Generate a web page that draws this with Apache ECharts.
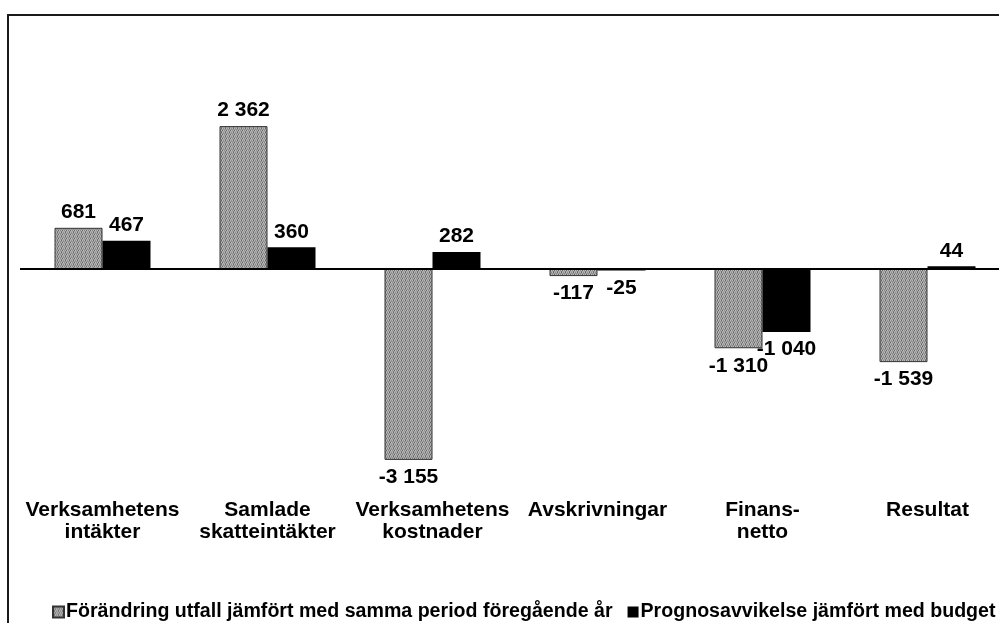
<!DOCTYPE html>
<html>
<head>
<meta charset="utf-8">
<script src="https://cdn.jsdelivr.net/npm/echarts@6/dist/echarts.min.js"></script>
<style>
html,body{margin:0;padding:0;background:#fff;}
#chart{width:999px;height:623px;}
</style>
</head>
<body>
<div id="chart"></div>
<script>
const categories = ['Verksamhetens\nintäkter', 'Samlade\nskatteintäkter', 'Verksamhetens\nkostnader', 'Avskrivningar', 'Finans-\nnetto', 'Resultat'];
const seriesNames = ['Förändring utfall jämfört med samma period föregående år', 'Prognosavvikelse jämfört med budget'];
const forandring = [681, 2362, -3155, -117, -1310, -1539];
const prognos = [467, 360, 282, -25, -1040, 44];
const yMin = -3500;
const yMax = 4000;

function fmt(v) {
  const s = Math.abs(v).toString().replace(/\B(?=(\d{3})+(?!\d))/g, ' ');
  return (v < 0 ? '-' : '') + s;
}

// dithered gray texture
function makePattern() {
  const c = document.createElement('canvas');
  c.width = 4; c.height = 4;
  const ctx = c.getContext('2d');
  const rows = [
    ['#bcbcbc', '#646464', '#bcbcbc', '#8a8a8a'],
    ['#969696', '#969696', '#9c9c9c', '#969696'],
    ['#8a8a8a', '#bcbcbc', '#646464', '#bcbcbc'],
    ['#a6a6a6', '#7c7c7c', '#a6a6a6', '#a6a6a6']
  ];
  for (let y = 0; y < 4; y++) for (let x = 0; x < 4; x++) {
    ctx.fillStyle = rows[y][x];
    ctx.fillRect(x, y, 1, 1);
  }
  return c;
}
const pattern = { image: makePattern(), repeat: 'repeat' };

const labelFont = { fontFamily: 'Liberation Sans', fontWeight: 'bold', fontSize: 21, color: '#000' };

function toItems(arr) {
  return arr.map(v => ({
    value: v,
    label: { position: v < 0 ? 'bottom' : 'top', distance: v < 0 ? 7 : 5 }
  }));
}

const chart = echarts.init(document.getElementById('chart'));
chart.setOption({
  animation: false,
  backgroundColor: '#fff',
  graphic: [{
    type: 'rect',
    shape: { x: 8, y: 15, width: 1200, height: 800 },
    style: { fill: 'none', stroke: '#1a1a1a', lineWidth: 2 },
    silent: true
  }],
  grid: { left: 20, right: -11, top: 27, height: 453.75, outerBoundsMode: 'none', containLabel: false },
  legend: {
    left: 47,
    top: 597,
    width: 990,
    itemWidth: 11,
    itemHeight: 11,
    itemGap: 15,
    icon: 'rect',
    textStyle: { fontFamily: 'Liberation Sans', fontWeight: 'bold', fontSize: 19.6, color: '#000', padding: [0, 0, 0, -3] },
    data: seriesNames
  },
  xAxis: {
    type: 'category',
    data: categories,
    axisLine: { show: false, onZero: false },
    axisTick: { show: false },
    splitLine: { show: false },
    axisLabel: {
      interval: 0,
      margin: 18,
      fontFamily: 'Liberation Sans',
      fontWeight: 'bold',
      fontSize: 21,
      lineHeight: 22,
      color: '#000'
    }
  },
  yAxis: {
    type: 'value',
    min: yMin,
    max: yMax,
    show: false,
    splitLine: { show: false }
  },
  series: [
    {
      name: seriesNames[0],
      type: 'bar',
      barWidth: 48,
      barGap: '0%',
      data: toItems(forandring),
      itemStyle: { color: pattern, borderColor: '#333', borderWidth: 1 },
      label: Object.assign({ show: true, formatter: p => fmt(p.value) }, labelFont),
      markLine: {
        silent: true,
        symbol: ['none', 'none'],
        label: { show: false },
        lineStyle: { color: '#000', width: 2, type: 'solid' },
        data: [{ yAxis: 0 }]
      }
    },
    {
      name: seriesNames[1],
      type: 'bar',
      barWidth: 48,
      barGap: '0%',
      data: toItems(prognos),
      itemStyle: { color: '#000' },
      label: Object.assign({ show: true, formatter: p => fmt(p.value) }, labelFont)
    }
  ]
});
</script>
</body>
</html>
